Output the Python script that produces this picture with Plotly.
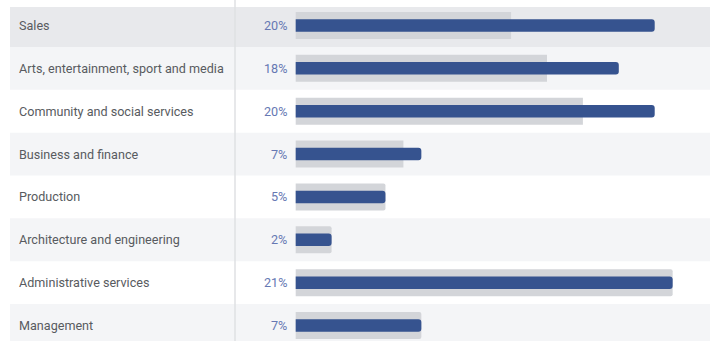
import plotly.graph_objects as go

# Occupation categories, top to bottom
categories = [
    "Sales",
    "Arts, entertainment, sport and media",
    "Community and social services",
    "Business and finance",
    "Production",
    "Architecture and engineering",
    "Administrative services",
    "Management",
]
# Highlighted share (%) per category
share = [20, 18, 20, 7, 5, 2, 21, 7]
# Comparison share (%) drawn as the wide grey bar behind
comparison = [12, 14, 16, 6, 5, 2, 21, 7]

W, H = 710, 341
BAR_X0 = 295.7      # pixel where the bars start
PX_PER_UNIT = 17.95  # pixels per percentage point
ROW0_Y = 25.5       # centre of the first row, pixels
ROW_H = 42.86       # row height, pixels

BLUE = "#36538f"
GREY_BAR = "#d3d5d9"
BAND_HI = "#e8e9ec"
BAND_LIGHT = "#f4f5f7"
LABEL_COLOR = "#585b60"
PCT_COLOR = "#6678b3"
FONT = "Roboto"
FONT_SIZE = 12.6

pos = list(range(len(categories)))

x_range = [-BAR_X0 / PX_PER_UNIT, (W - BAR_X0) / PX_PER_UNIT]
y_top = -ROW0_Y / ROW_H
y_bottom = (H - ROW0_Y) / ROW_H

fig = go.Figure()

fig.add_trace(go.Bar(
    y=pos, x=comparison, orientation="h",
    width=27 / ROW_H,
    marker=dict(color=GREY_BAR, cornerradius=2, line=dict(width=0)),
    hoverinfo="skip", showlegend=False,
))
fig.add_trace(go.Bar(
    y=pos, x=share, orientation="h",
    width=12.5 / ROW_H,
    marker=dict(color=BLUE, cornerradius=3, line=dict(width=0)),
    hovertemplate="%{x}%<extra></extra>", showlegend=False,
))

shapes = []
# Row background bands
for i in pos:
    if i == 0:
        color = BAND_HI
    elif i % 2 == 1:
        color = BAND_LIGHT
    else:
        continue
    y0 = i - 0.5 if i > 0 else (7 - ROW0_Y) / ROW_H
    shapes.append(dict(
        type="rect", xref="paper", yref="y",
        x0=10 / W, x1=1, y0=y0, y1=i + 0.5,
        fillcolor=color, line=dict(width=0), layer="below",
    ))
# Divider between labels and values
shapes.append(dict(
    type="line", xref="paper", yref="paper",
    x0=235 / W, x1=235 / W, y0=0, y1=1,
    line=dict(color="#dfe0e3", width=1.5), layer="below",
))

annotations = []
for i, (cat, val) in enumerate(zip(categories, share)):
    annotations.append(dict(
        xref="paper", yref="y", x=17 / W, y=i,
        text=cat, showarrow=False, xanchor="left", yanchor="middle",
        font=dict(family=FONT, size=FONT_SIZE, color=LABEL_COLOR),
    ))
    annotations.append(dict(
        xref="x", yref="y", x=0, y=i, xshift=-7,
        text=f"{val}%", showarrow=False, xanchor="right", yanchor="middle",
        font=dict(family=FONT, size=FONT_SIZE, color=PCT_COLOR),
    ))

fig.update_layout(
    width=W, height=H,
    margin=dict(l=0, r=0, t=0, b=0),
    paper_bgcolor="white", plot_bgcolor="rgba(0,0,0,0)",
    barmode="overlay",
    xaxis=dict(range=x_range, visible=False, fixedrange=True),
    yaxis=dict(range=[y_bottom, y_top], visible=False, fixedrange=True),
    shapes=shapes,
    annotations=annotations,
    font=dict(family=FONT),
)

fig.write_html("out.html")
